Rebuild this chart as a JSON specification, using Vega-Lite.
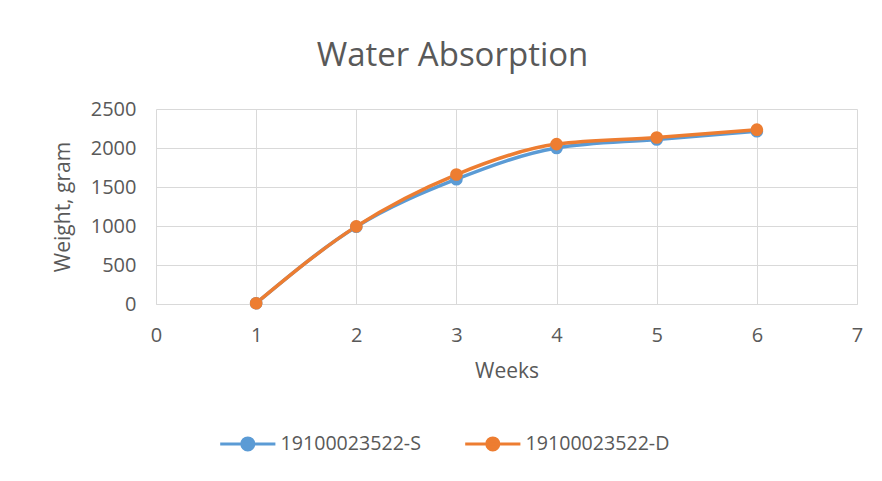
{
  "$schema": "https://vega.github.io/schema/vega-lite/v6.json",
  "width": 701,
  "height": 195,
  "autosize": "none",
  "padding": {"left": 156, "top": 109, "right": 25, "bottom": 177},
  "background": "white",
  "config": {
    "font": "Open Sans",
    "view": {"stroke": null},
    "axis": {
      "labelFont": "Open Sans",
      "titleFont": "Open Sans",
      "labelColor": "#595959",
      "titleColor": "#595959",
      "labelFontSize": 20,
      "titleFontSize": 21,
      "titleFontWeight": "normal",
      "gridColor": "#d9d9d9",
      "gridWidth": 1,
      "gridOpacity": 1,
      "tickSize": 0,
      "domain": false
    }
  },
  "title": {
    "text": "Water Absorption",
    "font": "Open Sans",
    "fontSize": 33,
    "fontWeight": "normal",
    "color": "#595959",
    "anchor": "middle",
    "dx": -54,
    "offset": 26
  },
  "data": {
    "values": [
      {"week": 1, "weight": 10, "series": "19100023522-S"},
      {"week": 2, "weight": 990, "series": "19100023522-S"},
      {"week": 3, "weight": 1600, "series": "19100023522-S"},
      {"week": 4, "weight": 2000, "series": "19100023522-S"},
      {"week": 5, "weight": 2110, "series": "19100023522-S"},
      {"week": 6, "weight": 2215, "series": "19100023522-S"},
      {"week": 1, "weight": 10, "series": "19100023522-D"},
      {"week": 2, "weight": 995, "series": "19100023522-D"},
      {"week": 3, "weight": 1660, "series": "19100023522-D"},
      {"week": 4, "weight": 2050, "series": "19100023522-D"},
      {"week": 5, "weight": 2135, "series": "19100023522-D"},
      {"week": 6, "weight": 2235, "series": "19100023522-D"}
    ]
  },
  "encoding": {
    "x": {
      "field": "week",
      "type": "quantitative",
      "scale": {"domain": [0, 7], "nice": false},
      "axis": {"values": [0, 1, 2, 3, 4, 5, 6, 7], "title": "Weeks", "labelPadding": 21, "titlePadding": 15, "domain": true, "domainColor": "#d9d9d9", "labelFlush": false}
    },
    "y": {
      "field": "weight",
      "type": "quantitative",
      "scale": {"domain": [0, 2500], "nice": false},
      "axis": {"values": [0, 500, 1000, 1500, 2000, 2500], "format": "d", "title": "Weight, gram", "labelPadding": 20, "titlePadding": 17}
    },
    "color": {
      "field": "series",
      "type": "nominal",
      "sort": ["19100023522-S", "19100023522-D"],
      "scale": {"domain": ["19100023522-S", "19100023522-D"], "range": ["#5B9BD5", "#ED7D31"]},
      "legend": {
        "title": null,
        "orient": "none",
        "direction": "horizontal",
        "legendX": 82,
        "legendY": 325,
        "labelFont": "Open Sans",
        "labelFontSize": 19.6,
        "labelColor": "#595959",
        "symbolType": "M-4.6,0H4.6M-1,0A1,1,0,1,1,1,0A1,1,0,1,1,-1,0Z",
        "symbolSize": 144,
        "symbolStrokeWidth": 3,
        "labelOffset": 23,
        "columnPadding": 38,
        "encode": {
          "symbols": {
            "update": {
              "stroke": {"scale": "color", "field": "value"},
              "fill": {"scale": "color", "field": "value"},
              "opacity": {"value": 1}
            }
          }
        }
      }
    }
  },
  "layer": [
    {
      "mark": {"type": "line", "interpolate": "monotone", "strokeWidth": 3.5}
    },
    {
      "mark": {"type": "point", "filled": true, "size": 160, "opacity": 1}
    }
  ]
}
